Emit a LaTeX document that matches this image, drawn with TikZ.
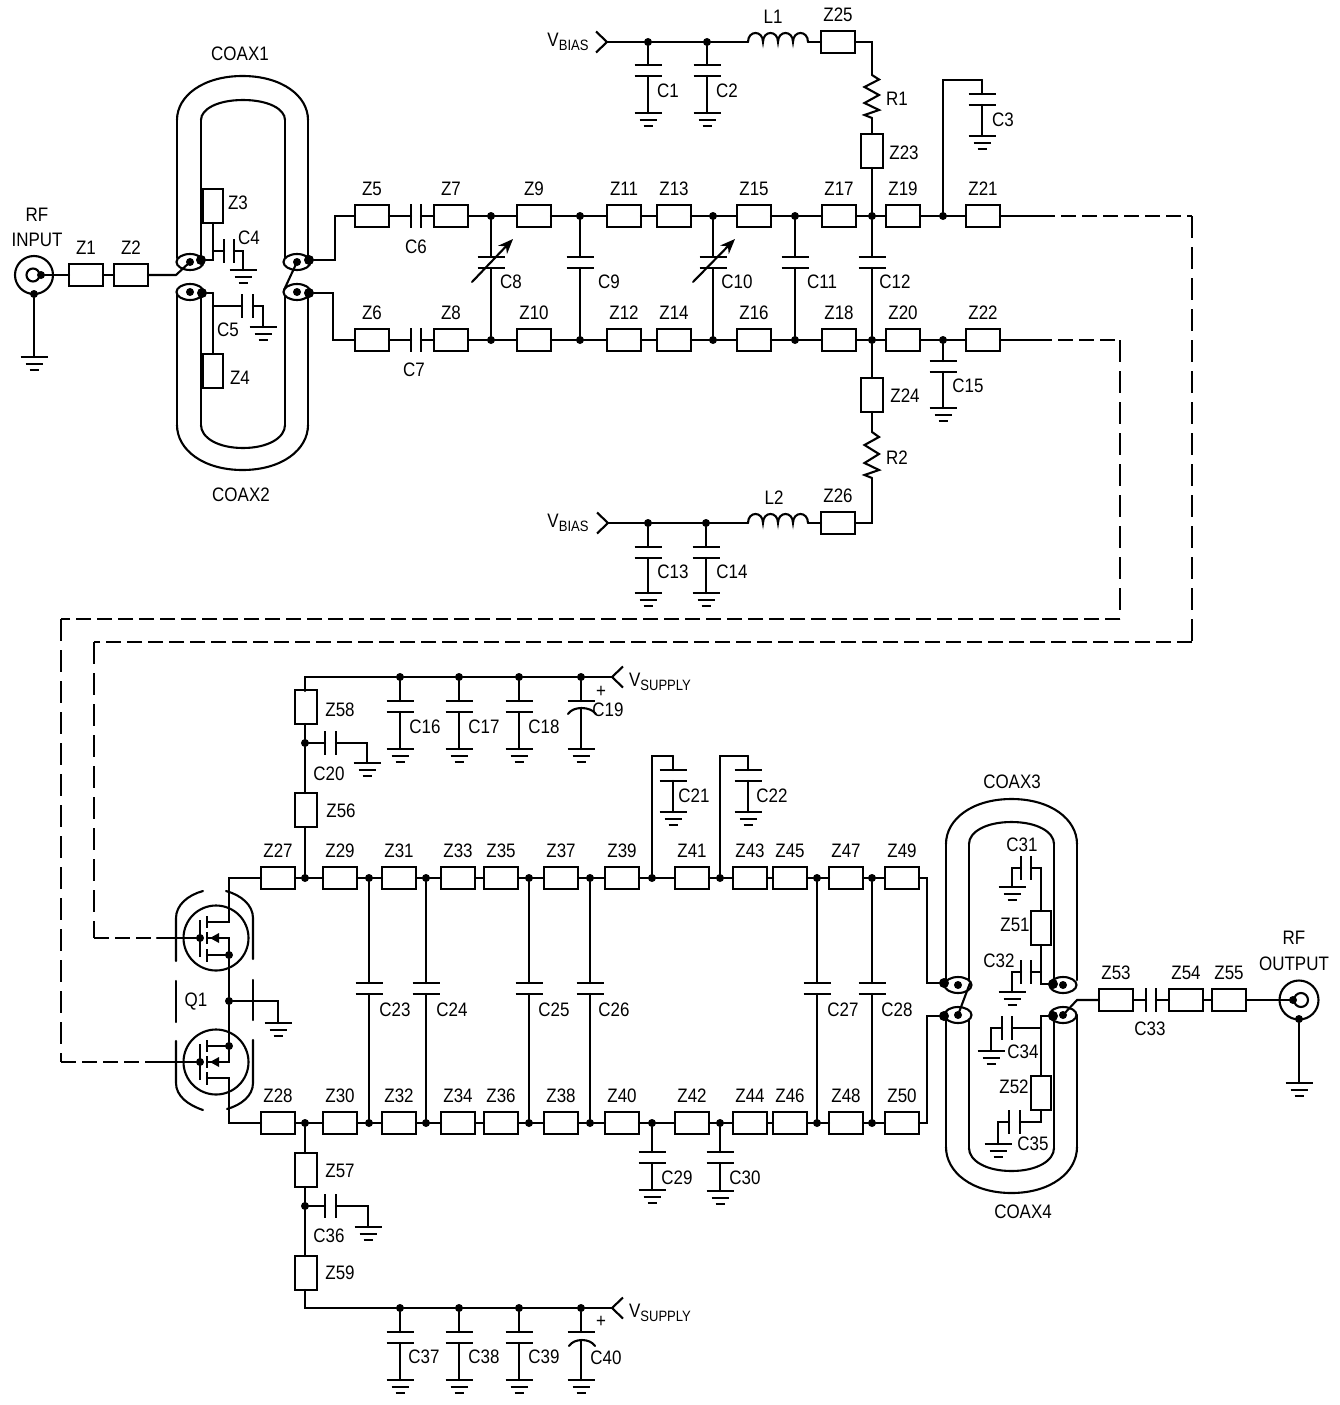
\documentclass[tikz,border=0pt]{standalone}
\usepackage{fontspec}
\setmainfont[FakeStretch=0.87]{Liberation Sans}
\usetikzlibrary{arrows.meta,shapes.geometric}
\tikzset{
  wire/.style={line width=2.1pt,line cap=round,line join=miter},
  zbox/.style={draw,line width=2.1pt,fill=white,inner sep=0pt,outer sep=0pt,rectangle},
  zh/.style={zbox,minimum width=34pt,minimum height=22pt},
  zv/.style={zbox,minimum width=22pt,minimum height=34pt},
  zn/.style={zbox,minimum width=20pt,minimum height=34pt},
  dot/.style={circle,fill=black,inner sep=0pt,outer sep=0pt,minimum size=8pt},
  bigdot/.style={circle,fill=black,inner sep=0pt,outer sep=0pt,minimum size=10pt},
  eyelid/.style={ellipse,draw,line width=2.1pt,fill=white,inner sep=0pt,outer sep=0pt,minimum width=27pt,minimum height=16pt},
  ring/.style={circle,draw,line width=2.1pt,inner sep=0pt,outer sep=0pt},
  txt/.style={inner sep=0pt,outer sep=0pt,font=\fontsize{19.5}{22}\selectfont},
  dashh/.style={wire,line cap=butt,dash pattern=on 15pt off 6pt},
  dashv/.style={wire,line cap=butt,dash pattern=on 22pt off 9pt},
}
\newcommand\mkZH[3]{\node[zh] (#1) at (#2,#3) {};\node[txt] (#1t) at ([yshift=27pt]#1.center) {#1};}
\newcommand\mkZV[5]{\node[zv] (#1) at (#2,#3) {};\node[txt] (#1t) at (#4,#5) {#1};}
\newcommand\mkZN[5]{\node[zn] (#1) at (#2,#3) {};\node[txt] (#1t) at (#4,#5) {#1};}
\newcommand\mkJ[3]{\node[dot] (#1) at (#2,#3) {};}
\newcommand\mkT[4]{\node[txt] (#1) at (#2,#3) {#4};}
\newcommand\mkG[3]{\coordinate (#1) at (#2,#3);
  \draw[wire,line cap=butt] (#2-13.5,#3)--(#2+13.5,#3) (#2-8.5,#3+7)--(#2+8.5,#3+7) (#2-4.5,#3+13)--(#2+4.5,#3+13);}
\newcommand\mkCV[3]{\coordinate (#1-a) at (#2,#3-5.5);\coordinate (#1-b) at (#2,#3+5.5);
  \draw[wire,line cap=butt] (#2-13.5,#3-5.5)--(#2+13.5,#3-5.5) (#2-13.5,#3+5.5)--(#2+13.5,#3+5.5);}
\newcommand\mkCH[4]{\coordinate (#1-a) at (#2,#4);\coordinate (#1-b) at (#3,#4);
  \draw[wire,line cap=butt] (#2,#4-12)--(#2,#4+12) (#3,#4-12)--(#3,#4+12);}
\newcommand\mkShunt[7]{\mkCV{#1}{#3}{#4}\mkG{#1g}{#3}{#5}\draw[wire] (#2)--(#1-a) (#1-b)--(#1g);\mkT{#1t}{#6}{#7}{#1}}
\newcommand\mkBridge[7]{\mkCV{#1}{#4}{#5}\draw[wire] (#2)--(#1-a) (#1-b)--(#3);\mkT{#1t}{#6}{#7}{#1}}
\newcommand\mkChev[4]{\coordinate (#1) at (#2,#3);\draw[wire,line cap=butt,line join=miter] (#2+#4,#3-10.5)--(#1)--(#2+#4,#3+10.5);}
\newcommand\mkLoop[4]{\pgfmathsetmacro\xmid{(#1+#2)/2}\pgfmathsetmacro\cya{#3+0.55*(#4-#3)}\pgfmathsetmacro\cxa{\xmid-0.6*(\xmid-#1)}\pgfmathsetmacro\cxb{\xmid+0.6*(\xmid-#1)}
  \draw[wire] (#1,#3) .. controls (#1,\cya) and (\cxa,#4) .. (\xmid,#4) .. controls (\cxb,#4) and (#2,\cya) .. (#2,#3);}
\newcommand\mkEye[5]{\node[eyelid] (#1) at (#2,#3) {};\node[dot] (#1-i) at (#2,#3) {};\node[bigdot] (#1-o) at (#4,#5) {};}
\newcommand\mkInd[3]{\coordinate (#1-a) at (#2,#3);\coordinate (#1-b) at (#2+60,#3);
  \draw[wire] (#2,#3) .. controls (#2,#3-12) and (#2+15,#3-12) .. (#2+15,#3)
   .. controls (#2+15,#3-12) and (#2+30,#3-12) .. (#2+30,#3)
   .. controls (#2+30,#3-12) and (#2+45,#3-12) .. (#2+45,#3)
   .. controls (#2+45,#3-12) and (#2+60,#3-12) .. (#2+60,#3);}
\newcommand\subs[1]{\raisebox{-3.5pt}{\fontsize{15}{15}\selectfont #1}}
\begin{document}
\begin{tikzpicture}[x=1pt,y=-1pt]
\path[use as bounding box,fill=white] (0,0) rectangle (1340,1405);

%% ---------- RF input
\mkT{RFa}{37}{215}{RF}\mkT{RFb}{37}{240}{INPUT}
\node[ring,minimum size=38pt] (RFinO) at (34,275) {};
\node[ring,minimum size=13pt] (RFinI) at (33,275) {};
\mkJ{RFinD}{41}{275}\mkJ{RFinB}{34}{294}
\mkG{RFinG}{34}{357}
\draw[wire] (RFinB)--(RFinG);
\mkZH{Z1}{86}{275}\mkZH{Z2}{131}{275}
\draw[wire] (RFinD)--(Z1);
\draw[wire] (Z1)--(Z2);

%% ---------- COAX1/2
\mkT{CX1}{240}{54}{COAX1}\mkT{CX2}{241}{495}{COAX2}
\mkLoop{177}{308}{120}{76}\mkLoop{201}{285}{120}{100}
\mkLoop{177}{308}{425}{470}\mkLoop{201}{285}{425}{448}
\draw[wire] (177,120)--(177,258) (308,120)--(308,258) (201,120)--(201,258) (285,120)--(285,258);
\draw[wire] (177,292)--(177,425) (308,292)--(308,425) (201,292)--(201,425) (285,292)--(285,425);
\mkEye{E1}{190}{262}{201}{260}\mkEye{E2}{190}{292}{202}{293}
\mkEye{E3}{297}{262}{309}{260}\mkEye{E4}{297}{292}{309}{293}
\coordinate (cA) at (176,275);\draw[wire] (Z2)--(cA)--(E1-i);
\coordinate (dg1) at (284,290);\draw[wire] (E3-i)--(dg1);
\mkZN{Z3}{213}{206}{238}{203}\mkZN{Z4}{213}{371}{240}{378}
\coordinate (c3a) at (213,260);\coordinate (c3b) at (213,293);
\draw[wire] (Z3)--(c3a)--(E1-o);\draw[wire] (c3b)--(E2-o);\draw[wire] (c3b)--(Z4);
\mkCH{C4}{224}{234}{251}\mkG{C4g}{243}{270}\coordinate (c4s) at (213,251);\coordinate (c4k) at (243,251);
\draw[wire] (c4s)--(C4-a) (C4-b)--(c4k)--(C4g);\mkT{C4t}{249}{238}{C4}
\mkCH{C5}{242}{253}{306}\mkG{C5g}{263}{327}\coordinate (c5s) at (213,306);\coordinate (c5k) at (263,306);
\draw[wire] (c5s)--(C5-a) (C5-b)--(c5k)--(C5g);\mkT{C5t}{228}{330}{C5}

%% ---------- driver chains
\foreach \n/\x in {Z5/372,Z7/451,Z9/534,Z11/624,Z13/674,Z15/754,Z17/839,Z19/903,Z21/983}{\mkZH{\n}{\x}{216}}
\foreach \n/\x in {Z6/372,Z8/451,Z10/534,Z12/624,Z14/674,Z16/754,Z18/839,Z20/903,Z22/983}{\mkZH{\n}{\x}{340}}
\mkJ{Ta}{491}{216}\mkJ{Tb}{580}{216}\mkJ{Tc}{713}{216}\mkJ{Td}{795}{216}\mkJ{Te}{872}{216}\mkJ{Tf}{943}{216}
\mkJ{Ba}{491}{340}\mkJ{Bb}{580}{340}\mkJ{Bc}{713}{340}\mkJ{Bd}{795}{340}\mkJ{Be}{872}{340}\mkJ{Bf}{943}{340}
\mkCH{C6}{411}{421}{216}\mkCH{C7}{411}{421}{340}
\mkT{C6t}{416}{247}{C6}\mkT{C7t}{414}{370}{C7}
\coordinate (c5a) at (335,260);\coordinate (c5b) at (335,216);
\coordinate (c6a) at (333,293);\coordinate (c6b) at (333,340);
\draw[wire] (E3-o)--(c5a)--(c5b)--(Z5);\draw[wire] (E4-o)--(c6a)--(c6b)--(Z6);
\draw[wire] (Z5)--(C6-a) (C6-b)--(Z7);\draw[wire] (Z6)--(C7-a) (C7-b)--(Z8);
\draw[wire] (Z7)--(Ta)--(Z9)--(Tb)--(Z11)--(Z13)--(Tc)--(Z15)--(Td)--(Z17)--(Te)--(Z19)--(Tf)--(Z21);
\draw[wire] (Z8)--(Ba)--(Z10)--(Bb)--(Z12)--(Z14)--(Bc)--(Z16)--(Bd)--(Z18)--(Be)--(Z20)--(Bf)--(Z22);
\mkBridge{C8}{Ta}{Ba}{491}{262.5}{511}{282}
\mkBridge{C9}{Tb}{Bb}{580}{262.5}{609}{282}
\mkBridge{C10}{Tc}{Bc}{713}{262.5}{737}{282}
\mkBridge{C11}{Td}{Bd}{795}{262.5}{822}{282}
\mkBridge{C12}{Te}{Be}{872}{262.5}{895}{282}
\coordinate (C8x) at (472,282);\coordinate (C8y) at (513,239);
\coordinate (C10x) at (693,282);\coordinate (C10y) at (735,239);
\draw[wire,-{Stealth[length=15pt,width=12pt]}] (C8x)--(C8y);
\draw[wire,-{Stealth[length=15pt,width=12pt]}] (C10x)--(C10y);
%% dashed runs
\coordinate (dA) at (1040,216);\coordinate (dB) at (1192,216);\coordinate (dC) at (1192,642);\coordinate (dD) at (94,642);\coordinate (dE) at (94,938);\coordinate (dF) at (157,938);
\coordinate (eA) at (1037,340);\coordinate (eB) at (1120,340);\coordinate (eC) at (1120,619);\coordinate (eD) at (61,619);\coordinate (eE) at (61,1062);\coordinate (eF) at (157,1062);
\draw[wire] (Z21)--(dA);\draw[wire] (Z22)--(eA);
\draw[dashh] (dA)--(dB);\draw[dashv] (dB)--(dC);\draw[dashh] (dC)--(dD);\draw[dashv] (dD)--(dE);\draw[dashh] (dE)--(dF);
\draw[dashh] (eA)--(eB);\draw[dashv] (eB)--(eC);\draw[dashh] (eC)--(eD);\draw[dashv] (eD)--(eE);\draw[dashh] (eE)--(eF);

%% ---------- upper bias
\mkT{VB1}{568}{42}{V\subs{BIAS}}
\mkChev{VB1c}{607}{42}{-11}
\mkJ{Va}{648}{42}\mkJ{Vb}{707}{42}
\mkShunt{C1}{Va}{648}{70.5}{113}{668}{91}\mkShunt{C2}{Vb}{707}{70.5}{113}{727}{91}
\mkInd{L1}{748}{42}\mkT{L1t}{773}{17}{L1}
\mkZH{Z25}{838}{42}
\coordinate (V1k) at (872,42);\coordinate (R1a) at (872,75);\coordinate (R1b) at (872,118);
\draw[wire] (VB1c)--(Va)--(Vb)--(L1-a);\draw[wire] (L1-b)--(Z25);\draw[wire] (Z25)--(V1k)--(R1a);
\draw[wire] (R1a)--(879,79.5)--(864.5,87)--(879,95)--(864.5,103)--(879,110)--(864.5,115)--(R1b);
\mkT{R1t}{897}{99}{R1}
\mkZV{Z23}{872}{151}{904}{153}
\draw[wire] (R1b)--(Z23);\draw[wire] (Z23)--(Te);
\coordinate (C3p) at (943,80);\coordinate (C3q) at (982,80);
\draw[wire] (Tf)--(C3p)--(C3q);
\mkCV{C3}{982}{99.5}\mkG{C3g}{982}{136}\draw[wire] (C3q)--(C3-a) (C3-b)--(C3g);\mkT{C3t}{1003}{120}{C3}

%% ---------- lower bias
\mkZV{Z24}{872}{395}{905}{396}
\coordinate (R2a) at (872,432);\coordinate (R2b) at (872,478);\coordinate (V2k) at (872,523);
\draw[wire] (Be)--(Z24);\draw[wire] (Z24)--(R2a);
\draw[wire] (R2a)--(879,437)--(864.5,445)--(879,454)--(864.5,463)--(879,470)--(864.5,475)--(R2b);
\mkT{R2t}{897}{458}{R2}
\mkZH{Z26}{838}{523}\mkInd{L2}{748}{523}\mkT{L2t}{774}{498}{L2}
\mkT{VB2}{568}{523}{V\subs{BIAS}}
\mkChev{VB2c}{608}{523}{-11}
\mkJ{Vc}{648}{523}\mkJ{Vd}{706}{523}
\mkShunt{C13}{Vc}{648}{552.5}{593}{673}{572}\mkShunt{C14}{Vd}{706}{552.5}{593}{732}{572}
\mkShunt{C15}{Bf}{943}{366.5}{408}{968}{386}
\draw[wire] (R2b)--(V2k)--(Z26);\draw[wire] (Z26)--(L2-b);\draw[wire] (L2-a)--(Vd)--(Vc)--(VB2c);

%% ---------- supply top
\coordinate (S1k) at (305,677);\mkChev{S1c}{612}{677}{11}
\mkT{VS1}{660}{682}{V\subs{SUPPLY}}
\mkJ{Sa}{400}{677}\mkJ{Sb}{459}{677}\mkJ{Sc}{519}{677}\mkJ{Sd}{581}{677}
\mkShunt{C16}{Sa}{400}{706.5}{749}{425}{727}\mkShunt{C17}{Sb}{459}{706.5}{749}{484}{727}\mkShunt{C18}{Sc}{519}{706.5}{749}{544}{727}
\mkT{C19t}{608}{710}{C19}\mkT{Pa}{601}{692}{+}
\coordinate (C19a) at (581,701);\coordinate (C19b) at (581,708);\mkG{C19g}{581}{749}
\draw[wire,line cap=butt] (567.5,701)--(595,701);
\draw[wire] (568,714) .. controls (573,706) and (590,706) .. (596,714);
\draw[wire] (Sd)--(C19a) (C19b)--(C19g);
\mkZV{Z58}{306}{707}{340}{710}\mkJ{Sj}{305}{743}\mkZV{Z56}{306}{810}{341}{811}
\mkCH{C20}{325}{336}{743}\coordinate (c20k) at (367,743);\mkG{C20g}{367}{763}\mkT{C20t}{329}{774}{C20}
\draw[wire] (Sj)--(C20-a) (C20-b)--(c20k)--(C20g);
\draw[wire] (S1c)--(Sd)--(Sc)--(Sb)--(Sa)--(S1k)--(305,691);
\draw[wire] (305,724)--(Sj)--(305,793);

%% ---------- output chains
\foreach \n/\x in {Z27/278,Z29/340,Z31/399,Z33/458,Z35/501,Z37/561,Z39/622,Z41/692,Z43/750,Z45/790,Z47/846,Z49/902}{\mkZH{\n}{\x}{878}}
\foreach \n/\x in {Z28/278,Z30/340,Z32/399,Z34/458,Z36/501,Z38/561,Z40/622,Z42/692,Z44/750,Z46/790,Z48/846,Z50/902}{\mkZH{\n}{\x}{1123}}
\mkJ{Ua}{305}{878}\mkJ{Ub}{369}{878}\mkJ{Uc}{426}{878}\mkJ{Ud}{529}{878}\mkJ{Ue}{590}{878}\mkJ{Uf}{652}{878}\mkJ{Ug}{720}{878}\mkJ{Uh}{817}{878}\mkJ{Ui}{872}{878}
\mkJ{Wa}{305}{1123}\mkJ{Wb}{369}{1123}\mkJ{Wc}{426}{1123}\mkJ{Wd}{529}{1123}\mkJ{We}{590}{1123}\mkJ{Wf}{652}{1123}\mkJ{Wg}{720}{1123}\mkJ{Wh}{817}{1123}\mkJ{Wi}{872}{1123}
\draw[wire] (Z27)--(Ua)--(Z29)--(Ub)--(Z31)--(Uc)--(Z33)--(Z35)--(Ud)--(Z37)--(Ue)--(Z39)--(Uf)--(Z41)--(Ug)--(Z43)--(Z45)--(Uh)--(Z47)--(Ui)--(Z49);
\draw[wire] (Z28)--(Wa)--(Z30)--(Wb)--(Z32)--(Wc)--(Z34)--(Z36)--(Wd)--(Z38)--(We)--(Z40)--(Wf)--(Z42)--(Wg)--(Z44)--(Z46)--(Wh)--(Z48)--(Wi)--(Z50);
\draw[wire] (305,827)--(Ua);
\mkBridge{C23}{Ub}{Wb}{369}{988.5}{395}{1010}
\mkBridge{C24}{Uc}{Wc}{426}{988.5}{452}{1010}
\mkBridge{C25}{Ud}{Wd}{529}{988.5}{554}{1010}
\mkBridge{C26}{Ue}{We}{590}{988.5}{614}{1010}
\mkBridge{C27}{Uh}{Wh}{817}{988.5}{843}{1010}
\mkBridge{C28}{Ui}{Wi}{872}{988.5}{897}{1010}
\coordinate (c21p) at (652,756);\coordinate (c21q) at (673,756);\coordinate (c22p) at (720,756);\coordinate (c22q) at (748,756);
\draw[wire] (Uf)--(c21p)--(c21q);\draw[wire] (Ug)--(c22p)--(c22q);
\mkShunt{C21}{c21q}{673}{775.5}{812}{694}{796}
\mkShunt{C22}{c22q}{748}{775.5}{812}{772}{796}
\mkShunt{C29}{Wf}{652}{1157.5}{1190}{677}{1178}
\mkShunt{C30}{Wg}{720}{1157.5}{1191}{745}{1178}

%% ---------- supply bottom
\mkZV{Z57}{306}{1170}{340}{1171}\mkJ{Sk}{305}{1206}\mkZV{Z59}{306}{1273}{340}{1273}
\mkCH{C36}{325}{336}{1206}\coordinate (c36k) at (368,1206);\mkG{C36g}{368}{1227}\mkT{C36t}{329}{1236}{C36}
\draw[wire] (Sk)--(C36-a) (C36-b)--(c36k)--(C36g);
\draw[wire] (Wa)--(305,1153) (305,1187)--(Sk)--(305,1256);
\coordinate (S2k) at (305,1308);\mkChev{S2c}{612}{1308}{11}
\mkT{VS2}{660}{1313}{V\subs{SUPPLY}}
\mkJ{Se}{400}{1308}\mkJ{Sf}{459}{1308}\mkJ{Sg}{519}{1308}\mkJ{Sh}{581}{1308}
\mkShunt{C37}{Se}{400}{1337.5}{1380}{424}{1357}\mkShunt{C38}{Sf}{459}{1337.5}{1380}{484}{1357}\mkShunt{C39}{Sg}{519}{1337.5}{1380}{544}{1357}
\mkT{C40t}{606}{1358}{C40}\mkT{Pb}{601}{1322}{+}
\coordinate (C40a) at (581,1332);\coordinate (C40b) at (581,1340);\mkG{C40g}{581}{1380}
\draw[wire,line cap=butt] (567.5,1332)--(595,1332);
\draw[wire] (569,1346) .. controls (574,1338) and (590,1338) .. (595,1346);
\draw[wire] (Sh)--(C40a) (C40b)--(C40g);
\draw[wire] (305,1290)--(S2k)--(Se)--(Sf)--(Sg)--(Sh)--(S2c);

%% ---------- Q1
\node[ring,minimum size=65pt] (Qa) at (216,938) {};
\node[ring,minimum size=65pt] (Qb) at (216,1062) {};
\mkJ{Qg1}{200}{938}\mkJ{Qg2}{200}{1062}\mkJ{Qs1}{229}{955}\mkJ{Qs2}{229}{1046}\mkJ{Qm}{229}{1001}
\mkT{Q1t}{196}{1002}{Q1}
\coordinate (Qk1) at (229,878);\coordinate (Qk2) at (229,1123);
\coordinate (Qd1) at (229,922);\coordinate (Qd2) at (229,1078);\coordinate (Qt1) at (229,938);\coordinate (Qt2) at (229,1062);
\draw[wire] (dF)--(Qg1);\draw[wire] (eF)--(Qg2);
\draw[wire] (Z27)--(Qk1)--(Qd1)--(207,922);
\draw[wire] (Z28)--(Qk2)--(Qd2)--(207,1078);
\draw[wire] (207,938)--(Qt1)--(Qs1)--(207,955);
\draw[wire] (207,1062)--(Qt2)--(Qs2)--(207,1046);
\draw[wire] (Qs1)--(Qm)--(Qs2);
\fill (210,938)--(219,933)--(219,943)--cycle;
\fill (210,1062)--(219,1057)--(219,1067)--cycle;
\draw[wire,line cap=butt] (200,920)--(200,957) (207,916)--(207,928) (207,932)--(207,944) (207,949)--(207,962);
\draw[wire,line cap=butt] (200,1044)--(200,1080) (207,1040)--(207,1052) (207,1056)--(207,1068) (207,1072)--(207,1085);
\draw[wire] (203,891) .. controls (188,895) and (176,905) .. (176,918)--(176,961);
\draw[wire] (226,891) .. controls (241,895) and (253,905) .. (253,918)--(253,959);
\draw[wire] (176,981)--(176,1022) (253,980)--(253,1020);
\draw[wire] (203,1110) .. controls (188,1105) and (176,1096) .. (176,1083)--(176,1041);
\draw[wire] (227,1109) .. controls (241,1105) and (253,1096) .. (253,1083)--(253,1040);
\coordinate (Qn) at (278,1001);\mkG{Qgnd}{278}{1023}
\draw[wire] (Qm)--(Qn)--(Qgnd);

%% ---------- COAX3/4
\mkT{CX3}{1012}{782}{COAX3}\mkT{CX4}{1023}{1212}{COAX4}
\mkLoop{946}{1077}{844}{799}\mkLoop{969}{1054}{844}{822}
\mkLoop{946}{1077}{1147}{1193}\mkLoop{969}{1054}{1148}{1171}
\draw[wire] (946,844)--(946,980) (1077,844)--(1077,980) (969,844)--(969,980) (1054,844)--(1054,980);
\draw[wire] (946,1015)--(946,1147) (1077,1015)--(1077,1147) (969,1015)--(969,1148) (1054,1015)--(1054,1148);
\mkEye{E5}{958}{985}{944}{983}\mkEye{E6}{958}{1015}{944}{1016}
\mkEye{E7}{1063}{985}{1053}{984}\mkEye{E8}{1063}{1015}{1053}{1016}
\coordinate (c49a) at (927,878);\coordinate (c49b) at (927,983);\coordinate (c50a) at (927,1123);\coordinate (c50b) at (927,1016);
\draw[wire] (Z49)--(c49a)--(c49b)--(E5-o);\draw[wire] (Z50)--(c50a)--(c50b)--(E6-o);
\coordinate (dg2) at (970,983);\draw[wire] (dg2)--(E6-i);
\coordinate (dg3) at (1077,1000);
\mkZN{Z51}{1041}{928}{1015}{925}\mkZN{Z52}{1041}{1093}{1014}{1087}
\mkCH{C31}{1021}{1031}{868}\mkG{C31g}{1012}{887}\coordinate (c31l) at (1012,868);\coordinate (c31r) at (1041,868);\mkT{C31t}{1022}{845}{C31}
\draw[wire] (C31g)--(c31l)--(C31-a) (C31-b)--(c31r)--(Z51);
\mkCH{C32}{1021}{1031}{972}\mkG{C32g}{1012}{992}\coordinate (c32l) at (1012,972);\coordinate (c32r) at (1041,972);\mkT{C32t}{999}{961}{C32}
\coordinate (c51k) at (1041,984);
\draw[wire] (C32g)--(c32l)--(C32-a) (C32-b)--(c32r);\draw[wire] (Z51)--(c51k)--(E7-o);
\coordinate (c52k) at (1041,1016);\coordinate (c34r) at (1041,1028);\coordinate (c34l) at (991,1028);
\mkCH{C34}{1002}{1012}{1028}\mkG{C34g}{991}{1051}\mkT{C34t}{1023}{1052}{C34}
\draw[wire] (E8-o)--(c52k)--(Z52);\draw[wire] (c34r)--(C34-b) (C34-a)--(c34l)--(C34g);
\mkCH{C35}{1009}{1020}{1122}\mkG{C35g}{998}{1144}\coordinate (c35r) at (1041,1122);\coordinate (c35l) at (998,1122);\mkT{C35t}{1033}{1144}{C35}
\draw[wire] (Z52)--(c35r)--(C35-b) (C35-a)--(c35l)--(C35g);

%% ---------- RF output
\foreach \n/\x in {Z53/1116,Z54/1186,Z55/1229}{\mkZH{\n}{\x}{1000}}
\mkCH{C33}{1146}{1156}{1000}\mkT{C33t}{1150}{1029}{C33}
\draw[wire] (E8-i)--(dg3)--(Z53);\draw[wire] (Z53)--(C33-a) (C33-b)--(Z54);\draw[wire] (Z54)--(Z55);
\mkT{RFc}{1294}{938}{RF}\mkT{RFd}{1294}{964}{OUTPUT}
\node[ring,minimum size=39pt] (RFoO) at (1299,1000) {};
\node[ring,minimum size=14pt] (RFoI) at (1301,1000) {};
\mkJ{RFoD}{1293}{1000}\mkJ{RFoB}{1299}{1019}\mkG{RFoG}{1299}{1083}
\draw[wire] (Z55)--(RFoD);\draw[wire] (RFoB)--(RFoG);
\end{tikzpicture}
\end{document}
